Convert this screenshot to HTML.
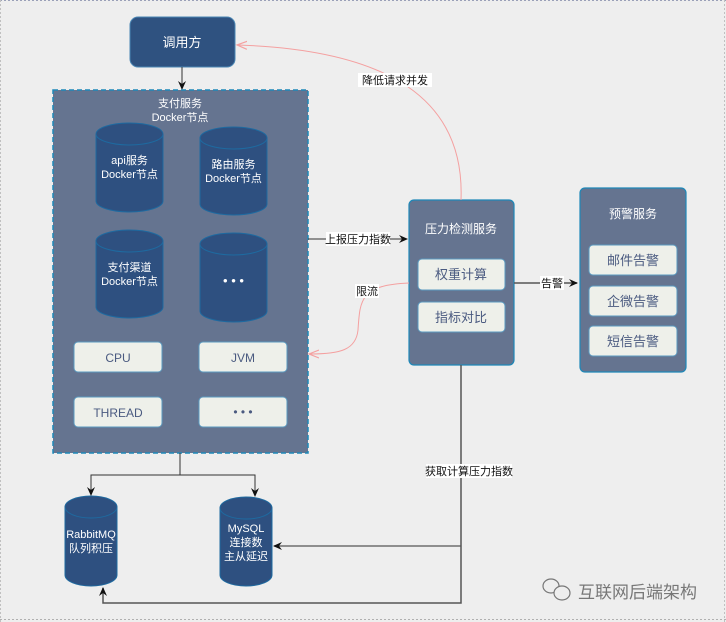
<!DOCTYPE html>
<html><head><meta charset="utf-8"><style>
html,body{margin:0;padding:0;background:#eeeeee;}
svg{display:block;font-family:"Liberation Sans","Noto Sans CJK SC",sans-serif;}
</style></head><body>
<svg width="726" height="622" viewBox="0 0 726 622" xmlns="http://www.w3.org/2000/svg">
<defs>
<marker id="ab" markerWidth="10" markerHeight="10" refX="8" refY="5" orient="auto" markerUnits="userSpaceOnUse"><path d="M0,1 L9,5 L0,9 L3,5 Z" fill="#111"/></marker>
<marker id="ap" markerWidth="12" markerHeight="10" refX="9" refY="5" orient="auto" markerUnits="userSpaceOnUse"><path d="M0,1 L10,5 L0,9" fill="none" stroke="#f4a0a0" stroke-width="1.2"/></marker>
</defs>
<rect x="0" y="0" width="726" height="622" fill="#eeeeee"/>
<line x1="0" y1="0.5" x2="726" y2="0.5" stroke="#9aa0b8" stroke-dasharray="2,2"/>
<line x1="0" y1="619.5" x2="726" y2="619.5" stroke="#b0b0b0" stroke-dasharray="2,2"/>
<line x1="0.5" y1="0" x2="0.5" y2="622" stroke="#c0c0c0" stroke-dasharray="2,2"/>
<line x1="724.5" y1="0" x2="724.5" y2="622" stroke="#c0c0c0" stroke-dasharray="2,2"/>

<!-- 调用方 -->
<rect x="130" y="17" width="105" height="50" rx="8" fill="#2f5280" stroke="#4a86b4"/>
<text x="182" y="47" fill="#fff" font-size="13" text-anchor="middle">调用方</text>
<line x1="182" y1="67" x2="182" y2="89" stroke="#333" marker-end="url(#ab)"/>

<!-- container -->
<rect x="53" y="90" width="255" height="363" fill="#657490" stroke="#1e88b8" stroke-width="1.5" stroke-dasharray="5,3"/>
<text x="180" y="107" fill="#fff" font-size="11" text-anchor="middle">支付服务</text>
<text x="180" y="121" fill="#fff" font-size="11" text-anchor="middle">Docker节点</text>

<g fill="#2e5080" stroke="#1e6aa0">
<path d="M96,134 v67 a33.5,11 0 0 0 67,0 v-67"/><ellipse cx="129.5" cy="134" rx="33.5" ry="11"/>
<path d="M200,138 v66 a33.5,11 0 0 0 67,0 v-66"/><ellipse cx="233.5" cy="138" rx="33.5" ry="11"/>
<path d="M96,241 v66 a33.5,11 0 0 0 67,0 v-66"/><ellipse cx="129.5" cy="241" rx="33.5" ry="11"/>
<path d="M200,244 v67 a33.5,11 0 0 0 67,0 v-67"/><ellipse cx="233.5" cy="244" rx="33.5" ry="11"/>
<path d="M65,507 v68 a26,11 0 0 0 52,0 v-68"/><ellipse cx="91" cy="507" rx="26" ry="11"/>
<path d="M220,508 v67 a26,11 0 0 0 52,0 v-67"/><ellipse cx="246" cy="508" rx="26" ry="11"/>
</g>
<g fill="#fff" font-size="11" text-anchor="middle">
<text x="129.5" y="164">api服务</text><text x="129.5" y="178">Docker节点</text>
<text x="233.5" y="168">路由服务</text><text x="233.5" y="182">Docker节点</text>
<text x="129.5" y="271">支付渠道</text><text x="129.5" y="285">Docker节点</text>
<text x="233.5" y="285" font-size="13">• • •</text>
<text x="91" y="538">RabbitMQ</text><text x="91" y="552">队列积压</text>
<text x="246" y="532">MySQL</text><text x="246" y="546">连接数</text><text x="246" y="560">主从延迟</text>
</g>

<g fill="#eef0ea" stroke="#5a9ac0">
<rect x="74" y="342" width="88" height="30" rx="4"/>
<rect x="199" y="342" width="88" height="30" rx="4"/>
<rect x="74" y="397" width="88" height="30" rx="4"/>
<rect x="199" y="397" width="88" height="30" rx="4"/>
</g>
<g fill="#4a5a80" font-size="12" text-anchor="middle">
<text x="118" y="362">CPU</text><text x="243" y="362">JVM</text>
<text x="118" y="417">THREAD</text><text x="243" y="416">•  •  •</text>
</g>

<!-- bottom connectors -->
<polyline points="180,453 180,475 91,475 91,495" fill="none" stroke="#333" marker-end="url(#ab)"/>
<polyline points="180,475 255,475 255,496" fill="none" stroke="#333" marker-end="url(#ab)"/>

<!-- pressure service -->
<rect x="409" y="200" width="105" height="165" rx="5" fill="#657490" stroke="#1e88b8" stroke-width="1.2"/>
<text x="461" y="233" fill="#fff" font-size="12" text-anchor="middle">压力检测服务</text>
<rect x="418" y="259" width="87" height="31" rx="4" fill="#eef0ea" stroke="#5a9ac0"/>
<rect x="418" y="302" width="87" height="30" rx="4" fill="#eef0ea" stroke="#5a9ac0"/>
<text x="461" y="279" fill="#4a5a80" font-size="13" text-anchor="middle">权重计算</text>
<text x="461" y="322" fill="#4a5a80" font-size="13" text-anchor="middle">指标对比</text>

<!-- warning service -->
<rect x="580" y="188" width="106" height="184" rx="5" fill="#657490" stroke="#1e88b8" stroke-width="1.2"/>
<text x="633" y="218" fill="#fff" font-size="12" text-anchor="middle">预警服务</text>
<g fill="#eef0ea" stroke="#5a9ac0">
<rect x="589" y="245" width="88" height="30" rx="4"/>
<rect x="589" y="286" width="88" height="30" rx="4"/>
<rect x="589" y="326" width="88" height="30" rx="4"/>
</g>
<g fill="#4a5a80" font-size="13" text-anchor="middle">
<text x="633" y="265">邮件告警</text><text x="633" y="306">企微告警</text><text x="633" y="346">短信告警</text>
</g>

<!-- arrows -->
<line x1="308" y1="239" x2="407" y2="239" stroke="#333" marker-end="url(#ab)"/>
<rect x="326" y="232" width="64" height="14" fill="#fff"/>
<text x="358" y="243" font-size="11" text-anchor="middle" fill="#111">上报压力指数</text>
<line x1="514" y1="283" x2="577" y2="283" stroke="#555" stroke-width="1.5" marker-end="url(#ab)"/>
<rect x="540" y="276" width="24" height="14" fill="#fff"/>
<text x="552" y="287" font-size="11" text-anchor="middle" fill="#111">告警</text>

<path d="M409,283 C360,285 360,300 358,330 C356,350 340,354 310,354" fill="none" stroke="#f4a0a0" marker-end="url(#ap)"/>
<rect x="355" y="284" width="24" height="14" fill="#fff"/>
<text x="367" y="295" font-size="11" text-anchor="middle" fill="#111">限流</text>

<path d="M461,200 C465,100 390,50 238,45" fill="none" stroke="#f4a0a0" marker-end="url(#ap)"/>
<rect x="358" y="73" width="74" height="14" fill="#fff"/>
<text x="395" y="84" font-size="11" text-anchor="middle" fill="#111">降低请求并发</text>

<polyline points="461,365 461,603 103,603 103,588" fill="none" stroke="#555" stroke-width="1.5" marker-end="url(#ab)"/>
<line x1="461" y1="546" x2="274" y2="546" stroke="#555" stroke-width="1.2" marker-end="url(#ab)"/>
<rect x="426" y="464" width="86" height="14" fill="#fff"/>
<text x="469" y="475" font-size="11" text-anchor="middle" fill="#111">获取计算压力指数</text>

<!-- watermark -->
<g fill="none" stroke="#777" stroke-width="1.2">
<ellipse cx="551" cy="586" rx="8" ry="7"/>
<ellipse cx="562" cy="593" rx="8" ry="7" fill="#eee"/>
</g>
<text x="578" y="598" font-size="17" fill="#777">互联网后端架构</text>
</svg>
</body></html>
